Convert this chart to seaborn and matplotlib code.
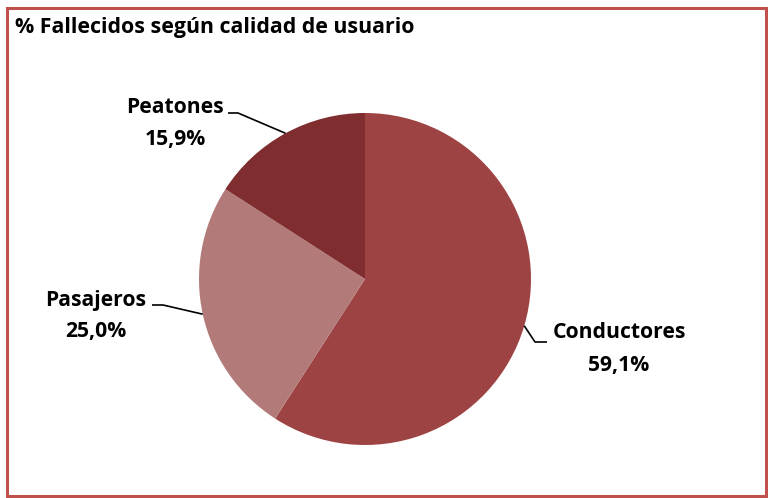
import numpy as np
import seaborn as sns
import matplotlib
matplotlib.use("Agg")
from matplotlib import pyplot as plt
from matplotlib.patches import Rectangle

# data
categorias = ['Conductores', 'Pasajeros', 'Peatones']
porcentajes = [59.1, 25.0, 15.9]
colores = ['#9E4343', '#B27B7A', '#7F2D2F']
titulo = '% Fallecidos según calidad de usuario'

sns.set_theme(style='white')
plt.rcParams['font.family'] = ['Open Sans', 'DejaVu Sans']

W, H = 768, 498
fig = plt.figure(figsize=(W / 100, H / 100), dpi=100)
ax = fig.add_axes([0, 0, 1, 1])

# pie in pixel-like coords (y measured from bottom)
cx, cy, r = 365, 498 - 279, 166
wedges, _ = ax.pie(porcentajes, colors=colores, startangle=90, counterclock=False,
                   center=(cx, cy), radius=r, frame=True,
                   wedgeprops=dict(linewidth=0))
ax.set_xlim(0, W)
ax.set_ylim(0, H)
ax.set_aspect('equal')
ax.axis('off')

# label layout: text centre, elbow and line end (pixels, y from top)
layout = {
    'Conductores': dict(txt=(619, 333), elbow=(535, 342), end=(547, 342)),
    'Pasajeros': dict(txt=(96, 300), elbow=(163, 305), end=(152, 305)),
    'Peatones': dict(txt=(175, 107), elbow=(238, 113), end=(228, 113)),
}

for w, cat, pct in zip(wedges, categorias, porcentajes):
    mid = np.deg2rad((w.theta1 + w.theta2) / 2)
    ex, ey = cx + r * np.cos(mid), cy + r * np.sin(mid)
    lay = layout[cat]
    xs = [ex, lay['elbow'][0], lay['end'][0]]
    ys = [ey, H - lay['elbow'][1], H - lay['end'][1]]
    ax.plot(xs, ys, color='black', lw=1.2, solid_capstyle='butt')
    tx, ty = lay['txt']
    ax.text(tx, H - ty, cat, ha='center', va='center', fontsize=15.2,
            fontweight='bold', color='black')
    ax.text(tx, H - ty - 32, f'{pct:.1f}%'.replace('.', ','), ha='center',
            va='center', fontsize=15.2, fontweight='bold', color='black')

fig.text(15 / W, 1 - 28 / H, titulo, ha='left', va='center', fontsize=15.4,
         fontweight='bold', color='black')

# outer frame
fig.patches.append(Rectangle((7 / W, 2 / H), 759 / W, 488 / H, transform=fig.transFigure,
                             fill=False, edgecolor='#C0504D', lw=2.2))

fig.savefig('out.png', dpi=100)
